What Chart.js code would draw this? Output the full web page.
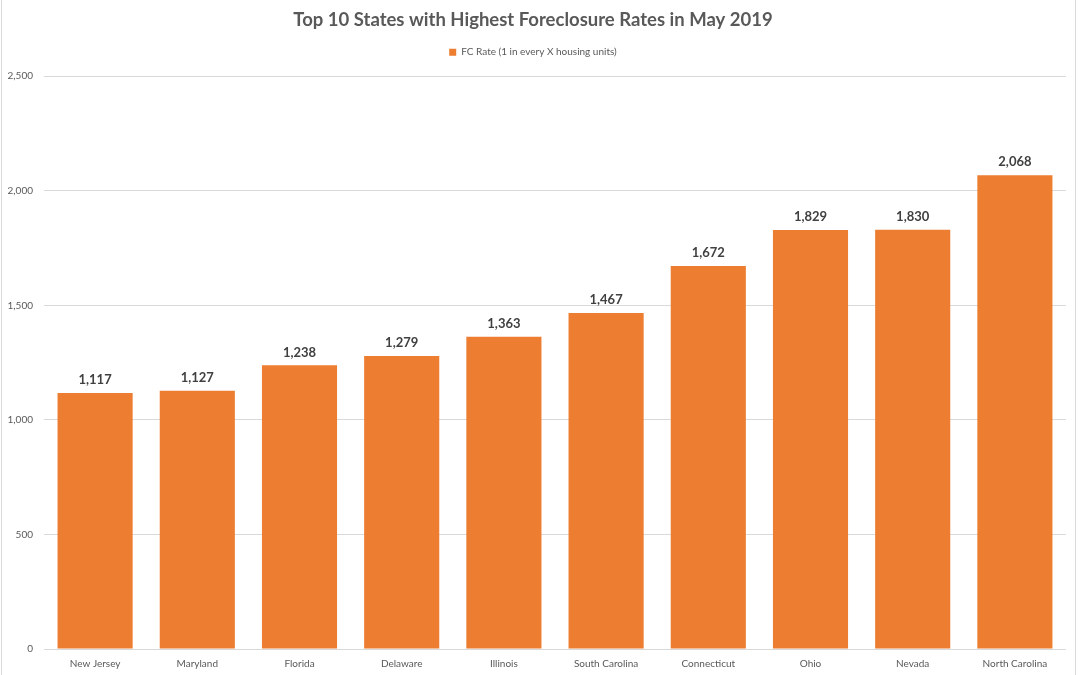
<!DOCTYPE html>
<html>
<head>
<meta charset="utf-8">
<script src="https://cdn.jsdelivr.net/npm/chart.js@4"></script>
<style>
  html, body { margin: 0; padding: 0; background: #fff; }
  #wrap { position: relative; width: 1080px; height: 675px; }
  #frame { position: absolute; left: 1px; top: 0; width: 1073px; height: 675px;
           border-left: 1px solid #d9d9d9; border-right: 1px solid #d9d9d9; pointer-events: none; }
  canvas { display: block; }
</style>
</head>
<body>
<div id="wrap">
  <canvas id="c" width="1080" height="675"></canvas>
  <div id="frame"></div>
</div>
<script>
const chartTitle = "Top 10 States with Highest Foreclosure Rates in May 2019";
const seriesName = "FC Rate (1 in every X housing units)";
const categories = ["New Jersey", "Maryland", "Florida", "Delaware", "Illinois",
                    "South Carolina", "Connecticut", "Ohio", "Nevada", "North Carolina"];
const fcRate = [1117, 1127, 1238, 1279, 1363, 1467, 1672, 1829, 1830, 2068];
const yMin = 0, yMax = 2500, yStep = 500;

const FONT = "Lato, 'Open Sans', 'DejaVu Sans', sans-serif";
const fmt = v => v.toLocaleString('en-US');

const dataLabels = {
  id: 'dataLabels',
  afterDatasetsDraw(chart) {
    const ctx = chart.ctx;
    const meta = chart.getDatasetMeta(0);
    ctx.save();
    ctx.font = "bold 13px " + FONT;
    ctx.fillStyle = "#404040";
    ctx.textAlign = "center";
    ctx.textBaseline = "middle";
    meta.data.forEach((bar, i) => {
      ctx.fillText(fmt(chart.data.datasets[0].data[i]), bar.x, bar.y - 13);
    });
    ctx.restore();
  }
};

const legendSpacer = {
  id: 'legendSpacer',
  afterInit(chart) {
    const lg = chart.legend;
    if (!lg) return;
    const orig = lg.fit.bind(lg);
    lg.fit = function () { orig(); this.height += 9; };
  }
};

new Chart(document.getElementById('c'), {
  type: 'bar',
  data: {
    labels: categories,
    datasets: [{
      label: seriesName,
      data: fcRate,
      backgroundColor: '#ED7D31',
      borderWidth: 0,
      categoryPercentage: 1.0,
      barPercentage: 0.735
    }]
  },
  options: {
    responsive: false,
    animation: false,
    devicePixelRatio: 1,
    layout: { padding: { left: 0, right: 14, top: 0, bottom: 0 } },
    plugins: {
      title: {
        display: true,
        text: chartTitle,
        color: '#595959',
        font: { family: FONT, size: 18.5, weight: 'bold' },
        padding: { top: 9, bottom: 8 }
      },
      legend: {
        display: true,
        position: 'top',
        labels: {
          color: '#595959',
          font: { family: FONT, size: 10 },
          boxWidth: 7, boxHeight: 7,
          padding: 8
        }
      },
      tooltip: { enabled: false }
    },
    scales: {
      x: {
        grid: { display: false, drawTicks: false },
        border: { display: false },
        ticks: { color: '#595959', font: { family: FONT, size: 10 }, padding: 9, maxRotation: 0, autoSkip: false },
        afterFit: s => { s.height = 26; }
      },
      y: {
        min: yMin, max: yMax,
        grid: { color: '#d9d9d9', drawTicks: false },
        border: { display: false },
        ticks: { stepSize: yStep, color: '#595959', font: { family: FONT, size: 10 }, padding: 11,
                 callback: v => fmt(v) },
        afterFit: s => { s.width = 44; }
      }
    }
  },
  plugins: [legendSpacer, dataLabels]
});
</script>
</body>
</html>
